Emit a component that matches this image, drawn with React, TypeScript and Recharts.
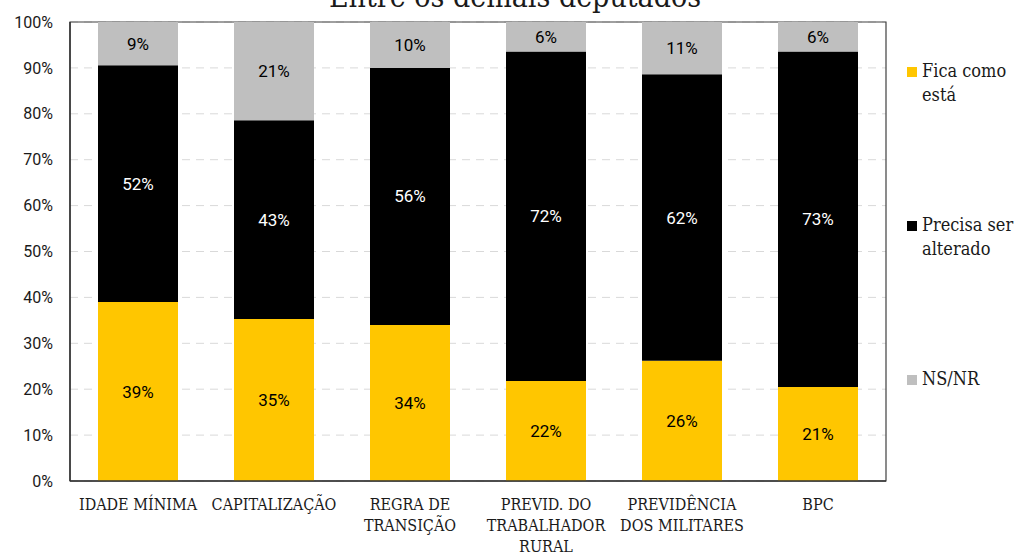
import {
  Bar,
  BarChart,
  CartesianGrid,
  LabelList,
  ReferenceArea,
  XAxis,
  YAxis,
} from "recharts";

const categories = [
  "IDADE MÍNIMA",
  "CAPITALIZAÇÃO",
  "REGRA DE\nTRANSIÇÃO",
  "PREVID. DO\nTRABALHADOR\nRURAL",
  "PREVIDÊNCIA\nDOS MILITARES",
  "BPC",
];
const ficaComoEsta = [39.0, 35.3, 34.0, 21.8, 26.2, 20.5];
const precisaSerAlterado = [51.6, 43.3, 56.0, 71.8, 62.4, 73.1];
const nsNr = [9.4, 21.4, 10.0, 6.4, 11.4, 6.4];
const yTicks = [0, 10, 20, 30, 40, 50, 60, 70, 80, 90, 100];

const TITLE = "Entre os demais deputados";

const series = [
  { key: "fica", name: "Fica como\nestá", color: "#FFC600", labelColor: "#000" },
  { key: "precisa", name: "Precisa ser\nalterado", color: "#000000", labelColor: "#fff" },
  { key: "nsnr", name: "NS/NR", color: "#BFBFBF", labelColor: "#000" },
];

const data = categories.map((name, i) => ({
  name,
  fica: ficaComoEsta[i],
  precisa: precisaSerAlterado[i],
  nsnr: nsNr[i],
}));

const slab = '"DejaVu Serif Condensed", "DejaVu Serif", serif';
const sans = 'Roboto, "Noto Sans", sans-serif';

function CategoryTick({ x, y, payload }: { x: number; y: number; payload: { value: string } }) {
  const lines = String(payload.value).split("\n");
  return (
    <text x={x} y={y + 29} textAnchor="middle" fill="#1a1a1a" fontSize={16} fontFamily={slab}>
      {lines.map((line, i) => (
        <tspan key={i} x={x} dy={i === 0 ? 0 : 21}>
          {line}
        </tspan>
      ))}
    </text>
  );
}

function SideLegend() {
  return (
    <div
      style={{
        position: "absolute",
        left: 907,
        top: 59,
        fontFamily: slab,
        fontSize: 18,
        color: "#1a1a1a",
      }}
    >
      {series.map((s, i) => (
        <div
          key={s.key}
          style={{
            display: "flex",
            alignItems: "flex-start",
            height: i < 2 ? 154 : 30,
            lineHeight: "24px",
          }}
        >
          <span
            style={{
              width: 10,
              height: 10,
              background: s.color,
              marginTop: 8,
              marginRight: 5,
              flexShrink: 0,
            }}
          />
          <span style={{ whiteSpace: "pre" }}>{s.name}</span>
        </div>
      ))}
    </div>
  );
}

export default function App() {
  return (
    <div style={{ position: "absolute", left: 0, top: 0, width: 1021, height: 553, background: "#fff", overflow: "hidden" }}>
      <div
        style={{
          position: "absolute",
          left: 0,
          width: 1030,
          top: -21,
          textAlign: "center",
          fontFamily: slab,
          fontSize: 30,
          lineHeight: "35px",
          color: "#1a1a1a",
          whiteSpace: "nowrap",
        }}
      >
        {TITLE}
      </div>
      <BarChart
        width={1021}
        height={553}
        data={data}
        margin={{ top: 22, right: 135, left: 0, bottom: 0 }}
        barSize={80}
      >
        <CartesianGrid
          horizontal
          vertical={false}
          stroke="#d9d9d9"
          strokeDasharray="8 6"
        />
        <XAxis
          dataKey="name"
          interval={0}
          tickLine={false}
          tickSize={0}
          tickMargin={0}
          axisLine={{ stroke: "#333", strokeWidth: 1.5 }}
          tick={CategoryTick}
          height={72}
        />
        <YAxis
          domain={[0, 100]}
          ticks={yTicks}
          width={70}
          tickLine={false}
          tickSize={0}
          tickMargin={17}
          axisLine={{ stroke: "#333", strokeWidth: 1.5 }}
          tickFormatter={(v: number) => `${v}%`}
          tick={{ fill: "#1a1a1a", fontSize: 16, fontFamily: sans }}
        />
        {series.map((s) => (
          <Bar
            key={s.key}
            dataKey={s.key}
            stackId="a"
            fill={s.color}
            name={s.name}
            isAnimationActive={false}
          >
            <LabelList
              dataKey={s.key}
              position="center"
              formatter={(v: number) => `${Math.round(v)}%`}
              fill={s.labelColor}
              fontSize={17}
              fontFamily={sans}
            />
          </Bar>
        ))}
        <ReferenceArea
          x1={categories[0]}
          x2={categories[categories.length - 1]}
          y1={0}
          y2={100}
          fill="none"
          fillOpacity={0}
          stroke="#404040"
          strokeWidth={1.2}
          ifOverflow="visible"
        />
      </BarChart>
      <SideLegend />
    </div>
  );
}
